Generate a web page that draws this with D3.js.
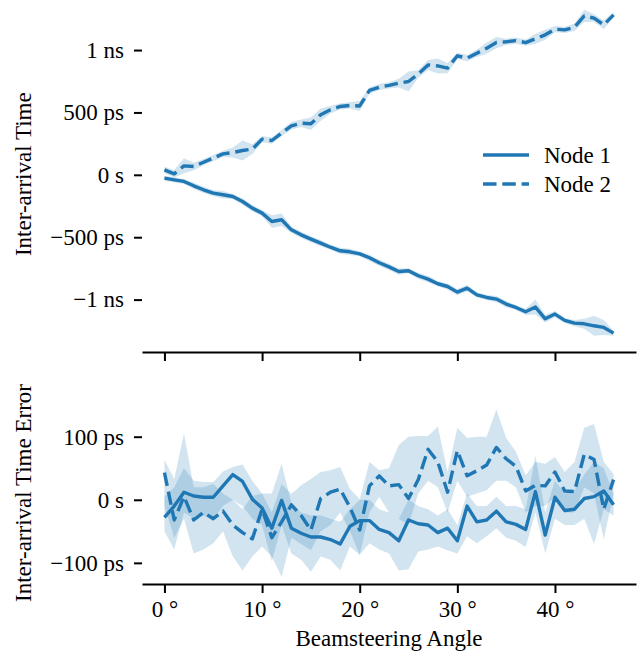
<!DOCTYPE html>
<html>
<head>
<meta charset="utf-8">
<script src="https://cdn.jsdelivr.net/npm/d3@7"></script>
<style>body{margin:0;background:#fff}</style>
</head>
<body>
<div class="chart"></div>
<script>
// beamsteering angle (degrees)
const angles = [0,1,2,3,4,5,6,7,8,9,10,11,12,13,14,15,16,17,18,19,20,21,22,23,24,25,26,27,28,29,30,31,32,33,34,35,36,37,38,39,40,41,42,43,44,45,46];

// top panel: inter-arrival time (ps), band half width (ps)
const topNode1 = [-27,-40,-53,-88,-120,-147,-160,-174,-214,-267,-307,-374,-360,-441,-481,-515,-547,-580,-609,-617,-633,-665,-705,-738,-775,-769,-809,-836,-873,-895,-940,-908,-962,-983,-996,-1036,-1063,-1098,-1060,-1154,-1116,-1167,-1189,-1194,-1210,-1223,-1269];
const topErr1  = [20,20,20,25,25,25,30,20,25,25,25,50,50,25,25,25,25,20,25,25,20,25,25,25,25,20,25,25,20,25,25,25,20,20,25,25,20,25,60,30,25,20,25,40,80,60,20];
const topNode2 = [40,8,72,67,101,134,168,179,195,206,286,275,334,393,414,409,481,521,548,556,552,676,702,717,735,748,809,881,873,855,954,935,975,1015,1060,1066,1076,1060,1090,1122,1167,1162,1183,1274,1256,1202,1282];
const topErr2  = [25,30,60,30,25,25,25,40,80,40,25,25,25,30,30,50,50,30,25,25,40,25,25,25,35,80,30,40,60,40,25,25,30,45,45,25,25,25,40,40,25,25,30,50,30,35,20];

// bottom panel: inter-arrival time error (ps) with band low / high
const botNode1 = [-28,-10,12,6,4,4,22,40,29,1,-13,-45,-1,-45,-53,-59,-59,-63,-70,-42,-33,-33,-47,-52,-65,-32,-38,-40,-52,-45,-65,-10,-35,-32,-18,-35,-39,-47,13,-56,4,-17,-15,2,5,14,-8];
const botLo1   = [-50,-79,-20,-30,-25,-30,-10,0,-10,-30,-40,-98,-40,-85,-95,-114,-90,-95,-112,-74,-87,-69,-79,-85,-112,-110,-82,-79,-74,-80,-85,-58,-69,-58,-45,-60,-65,-75,-20,-85,-30,-40,-40,-30,-70,-15,-25];
const botHi1   = [5,20,50,30,28,28,45,52,56,30,10,10,57,-5,-20,-25,-25,-30,-35,-15,0,0,-15,-20,-30,0,-10,-15,-25,-15,-40,10,-10,-10,5,-10,-10,-15,70,-20,30,10,15,40,60,50,10];
const botNode2 = [43,-32,5,-32,-20,-30,-18,-40,-52,-62,-15,-60,-35,-8,-25,-48,2,12,17,-12,-48,22,38,22,24,2,32,80,60,12,78,38,46,55,83,65,53,14,23,22,44,14,13,72,64,-15,32];
const botLo2   = [-10,-60,-30,-85,-79,-69,-50,-90,-112,-90,-74,-90,-122,-60,-70,-80,-50,-40,-20,-50,-87,-20,5,-20,-30,-40,10,30,20,-20,30,5,10,15,30,30,20,-20,-10,-10,5,-20,-20,20,10,-63,10];
const botHi2   = [63,33,105,20,20,25,10,0,-15,6,10,-20,25,9,23,33,44,47,52,17,1,60,47,50,87,100,101,101,116,44,114,98,100,100,143,98,76,39,60,57,68,44,60,114,120,60,41];

const xTicks = [0,10,20,30,40];
const xTickLabels = ['0 °','10 °','20 °','30 °','40 °'];
const topTicks = [-1000,-500,0,500,1000];
const topTickLabels = ['\u22121 ns','\u2212500 ps','0 s','500 ps','1 ns'];
const botTicks = [-100,0,100];
const botTickLabels = ['\u2212100 ps','0 s','100 ps'];
const seriesNames = ['Node 1','Node 2'];

const blue = '#1f77b4';
const font = '"Liberation Serif", "DejaVu Serif", serif';
const fontSize = 23;
const dash = '13.5,5.8';

const svg = d3.select('.chart').append('svg')
    .attr('width', 641)
    .attr('height', 656);

const x = d3.scaleLinear().domain([-2.3, 48.3]).range([142, 636]);
const yTop = d3.scaleLinear().domain([-1420, 1430]).range([352, -3.6]);
const yBot = d3.scaleLinear().domain([-133.5, 155]).range([584, 402]);

function panel(y, series, ticks, tickLabels, title, xLabels) {
    const g = svg.append('g');
    const area = d3.area()
        .x((d, i) => x(angles[i]))
        .y0(d => y(d[0]))
        .y1(d => y(d[1]));
    const line = d3.line()
        .x((d, i) => x(angles[i]))
        .y(d => y(d));

    series.forEach(s => {
        g.append('path')
            .attr('d', area(s.lo.map((d, i) => [d, s.hi[i]])))
            .attr('fill', blue)
            .attr('fill-opacity', 0.2);
    });
    series.forEach(s => {
        g.append('path')
            .attr('d', line(s.v))
            .attr('fill', 'none')
            .attr('stroke', blue)
            .attr('stroke-width', 3.4)
            .attr('stroke-linejoin', 'round')
            .attr('stroke-dasharray', s.dashed ? dash : null);
    });

    const gy = svg.append('g')
        .attr('transform', 'translate(142,0)')
        .call(d3.axisLeft(y).tickValues(ticks).tickFormat((d, i) => tickLabels[i]).tickSize(8).tickPadding(10));
    gy.attr('font-family', font).attr('font-size', fontSize);
    gy.select('.domain').remove();
    gy.selectAll('line').attr('stroke', '#000').attr('stroke-width', 2);
    gy.selectAll('text').attr('fill', '#000');

    const bottom = y.range()[0];
    const gx = svg.append('g')
        .attr('transform', 'translate(0,' + bottom + ')')
        .call(d3.axisBottom(x).tickValues(xTicks)
            .tickFormat((d, i) => xLabels ? xTickLabels[i] : '')
            .tickSize(9).tickSizeOuter(0).tickPadding(8));
    gx.attr('font-family', font).attr('font-size', fontSize);
    gx.select('.domain').attr('stroke', '#000').attr('stroke-width', 2.2);
    gx.selectAll('line').attr('stroke', '#000').attr('stroke-width', 2);
    gx.selectAll('text').attr('fill', '#000');

    const mid = (y.range()[0] + y.range()[1]) / 2;
    svg.append('text')
        .attr('transform', 'translate(31,' + mid + ') rotate(-90)')
        .attr('text-anchor', 'middle')
        .attr('font-family', font)
        .attr('font-size', fontSize)
        .text(title);
}

panel(yTop, [
    {v: topNode1, lo: topNode1.map((d, i) => d - topErr1[i]), hi: topNode1.map((d, i) => d + topErr1[i]), dashed: false},
    {v: topNode2, lo: topNode2.map((d, i) => d - topErr2[i]), hi: topNode2.map((d, i) => d + topErr2[i]), dashed: true}
], topTicks, topTickLabels, 'Inter-arrival Time', false);

panel(yBot, [
    {v: botNode1, lo: botLo1, hi: botHi1, dashed: false},
    {v: botNode2, lo: botLo2, hi: botHi2, dashed: true}
], botTicks, botTickLabels, 'Inter-arrival Time Error', true);

svg.append('text')
    .attr('x', 389)
    .attr('y', 646)
    .attr('text-anchor', 'middle')
    .attr('font-family', font)
    .attr('font-size', fontSize)
    .text('Beamsteering Angle');

// legend
const legend = svg.append('g');
seriesNames.forEach((name, i) => {
    const ly = 155 + i * 29;
    legend.append('line')
        .attr('x1', 483).attr('x2', 529)
        .attr('y1', ly).attr('y2', ly)
        .attr('stroke', blue)
        .attr('stroke-width', 3.4)
        .attr('stroke-dasharray', i === 1 ? dash : null);
    legend.append('text')
        .attr('x', 544)
        .attr('y', ly + 8)
        .attr('font-family', font)
        .attr('font-size', fontSize)
        .text(name);
});
</script>
</body>
</html>
